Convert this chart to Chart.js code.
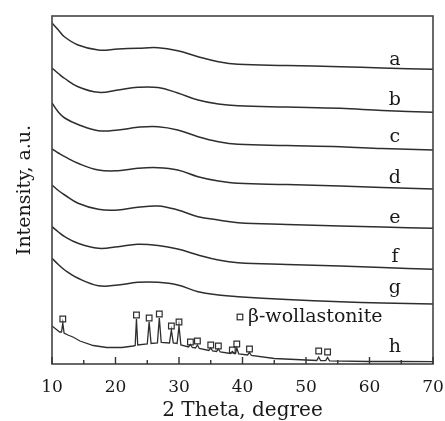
<!DOCTYPE html>
<html><head><meta charset="utf-8">
<script src="https://cdn.jsdelivr.net/npm/chart.js@4.4.0/dist/chart.umd.min.js"></script>
<style>html,body{margin:0;padding:0;background:#fff;}#wrap{width:445px;height:421px;}</style>
</head><body><div id="wrap"><canvas id="c" width="445" height="421"></canvas></div>
<script>
// 2-theta grid (degree) for the amorphous traces a–g
const twoTheta = [10, 11, 12, 14.1, 17.3, 20.4, 23.5, 26.7, 29.8, 33, 36.2, 39.3, 47, 55.4, 62, 70];
// Intensities (a.u., stacked offsets included)
const seriesA = [340, 333, 326, 318, 313, 314, 314.7, 315.3, 312.3, 306.3, 301.3, 298.7, 297.5, 296.3, 295, 293.7];
const seriesB = [295, 289.5, 284.5, 276.3, 270.7, 273, 275.7, 275.5, 270, 263, 259, 257.3, 256, 254.7, 252.5, 250.7];
const seriesC = [260, 251, 245, 238.5, 232.3, 233, 235.7, 236.3, 233, 226.3, 221.3, 218.7, 217.5, 216.3, 214.5, 213];
const seriesD = [214, 210, 206.3, 199.7, 193, 192.3, 194.7, 195.3, 193, 186.3, 182, 179.7, 178.5, 177, 175.5, 174];
const seriesE = [178, 172.5, 168, 159.7, 153.7, 153, 155.7, 157, 153, 146.3, 143, 140.3, 138.5, 137, 136, 134.7];
const seriesF = [136.3, 131, 126.3, 119.7, 114.7, 116.3, 118.7, 117.5, 114, 108, 103, 100.3, 98.5, 97, 95.5, 93.7];
const seriesG = [104.7, 98.5, 93, 84.7, 77.3, 78, 80.7, 80.7, 78, 71.3, 68, 66.3, 63.5, 61.3, 60, 59];
// Crystalline trace h: its own 2-theta points and intensities
const thetaH = [10,10.6,11.2,11.5,11.7,11.9,12.5,13.3,14.4,16.5,18.6,21,22.8,23.1,23.3,23.5,25.0,25.3,25.6,26.6,26.9,27.2,28.5,28.8,29.1,29.7,30.0,30.3,31.5,31.8,32.1,32.6,32.9,33.2,34.7,35.0,35.3,35.9,36.2,36.5,38.1,38.4,38.7,38.9,39.1,39.4,40.8,41.1,41.4,45,50,51.7,52,52.3,53.1,53.4,53.7,60,65,70];
const seriesH = [37,34,31,31,40,30,28,26,22,17.5,15.5,15.5,17,17.5,44,18,19,41,19.5,20,45,20.5,20,33,20,19.5,37,18,16,18.5,15.5,15,18,14.5,12.5,15,12,11.5,14,11,9.5,11.5,9.5,9.5,15,9,8,10.5,7.5,4.5,3,2.5,6,2.5,2.3,5.5,2.2,1.5,1.5,1.3];
// β-wollastonite peak markers
const markerTheta = [11.7, 23.3, 25.3, 26.9, 28.8, 30.0, 31.8, 32.9, 35.0, 36.2, 38.4, 39.1, 41.1, 52.0, 53.4];
const markerI = [44, 48, 45, 49, 37, 41, 21, 22, 18, 17, 13, 19, 14, 12, 11];
// Trace labels
const traceLabels = ['a', 'b', 'c', 'd', 'e', 'f', 'g', 'h'];
const labelI = [298, 258, 221, 180, 140, 101, 70, 11];
const labelTheta = 64;
const legendText = 'β-wollastonite';
const legendTheta = 39.6, legendI = 46;
const xTicksMajor = [10, 20, 30, 40, 50, 60, 70];
const xTicksMinor = [15, 25, 35, 45, 55, 65];

const LINE = '#2e2e2e';
const TXT = '#1a1a1a';
const SERIF = "'DejaVu Serif', 'Liberation Serif', serif";

const amorph = [seriesA, seriesB, seriesC, seriesD, seriesE, seriesF, seriesG];
const datasets = amorph.map((s, k) => ({
  label: traceLabels[k],
  data: twoTheta.map((x, i) => ({x, y: s[i]})),
  borderColor: LINE, borderWidth: 1.5, pointRadius: 0, tension: 0.4, fill: false
}));
datasets.push({
  label: 'h',
  data: thetaH.map((x, i) => ({x, y: seriesH[i]})),
  borderColor: LINE, borderWidth: 1.3, pointRadius: 0, tension: 0, fill: false
});
datasets.push({
  label: 'markers',
  data: markerTheta.map((x, i) => ({x, y: markerI[i]})),
  showLine: false, pointStyle: 'rect', pointRadius: 4, pointBorderWidth: 1.2,
  pointBorderColor: LINE, pointBackgroundColor: 'rgba(0,0,0,0)', borderColor: LINE
});

const deco = {
  id: 'deco',
  afterDraw(chart) {
    const {ctx, chartArea: a, scales: {x, y}} = chart;
    ctx.save();
    // frame
    ctx.strokeStyle = '#444'; ctx.lineWidth = 1.6;
    ctx.strokeRect(a.left, a.top, a.right - a.left, a.bottom - a.top);
    // inward ticks on bottom axis
    ctx.lineWidth = 1.4; ctx.strokeStyle = '#333';
    ctx.beginPath();
    xTicksMajor.forEach(v => { const px = x.getPixelForValue(v); ctx.moveTo(px, a.bottom); ctx.lineTo(px, a.bottom - 7); });
    xTicksMinor.forEach(v => { const px = x.getPixelForValue(v); ctx.moveTo(px, a.bottom); ctx.lineTo(px, a.bottom - 4); });
    ctx.stroke();
    // trace labels
    ctx.fillStyle = TXT; ctx.font = "19px " + SERIF;
    ctx.textAlign = 'center'; ctx.textBaseline = 'alphabetic';
    traceLabels.forEach((t, i) => ctx.fillText(t, x.getPixelForValue(labelTheta), y.getPixelForValue(labelI[i])));
    // legend
    const lx = x.getPixelForValue(legendTheta), ly = y.getPixelForValue(legendI);
    ctx.lineWidth = 1.2; ctx.strokeStyle = LINE;
    ctx.strokeRect(lx - 2.8, ly - 2.8, 5.6, 5.6);
    ctx.textAlign = 'left'; ctx.textBaseline = 'middle';
    ctx.fillText(legendText, lx + 8, ly);
    ctx.restore();
  }
};

new Chart(document.getElementById('c'), {
  type: 'line',
  data: {datasets},
  options: {
    responsive: false, animation: false, devicePixelRatio: 1,
    layout: {padding: {left: 0, top: 16, right: 12, bottom: 0}},
    plugins: {legend: {display: false}, tooltip: {enabled: false}},
    scales: {
      x: {
        type: 'linear', min: 10, max: 70,
        ticks: {stepSize: 10, color: TXT, padding: 5, font: {family: SERIF, size: 17, lineHeight: 1.2}},
        grid: {display: false}, border: {display: false},
        title: {display: true, text: '2 Theta, degree', color: TXT, padding: 0, font: {family: SERIF, size: 20, lineHeight: 1}},
        afterFit(s) { s.height = 57; s.paddingLeft = 0; s.paddingRight = 0; }
      },
      y: {
        min: -1, max: 347,
        ticks: {display: false}, grid: {display: false}, border: {display: false},
        title: {display: true, text: 'Intensity, a.u.', color: TXT, padding: {top: 14, bottom: 0}, font: {family: SERIF, size: 19, lineHeight: 1.2}},
        afterFit(s) { s.width = 52; s.paddingTop = 0; s.paddingBottom = 0; }
      }
    }
  },
  plugins: [deco]
});
</script></body></html>
